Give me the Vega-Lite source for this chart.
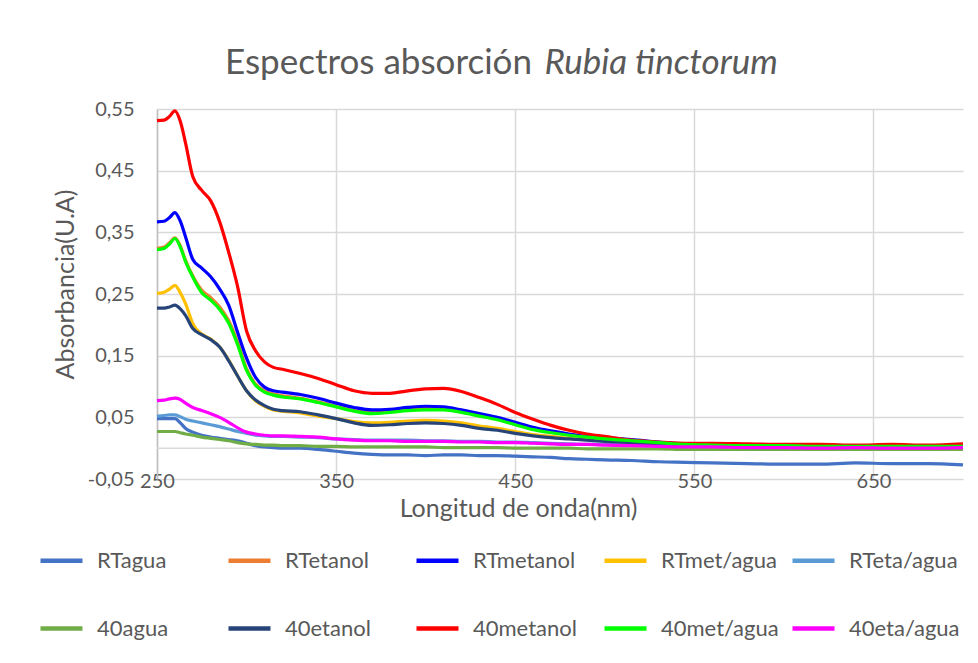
{
"$schema":"https://vega.github.io/schema/vega-lite/v6.json",
"width":806,"height":370,
"autosize":{"type":"none"},
"padding":{"left":157,"top":109,"right":15,"bottom":184},
"background":"white",
"title":{"text":"Espectros absorción","subtitle":"\u200b\u00a0\u00a0\u00a0\u00a0\u00a0\u00a0\u00a0\u00a0\u00a0\u00a0\u00a0\u00a0\u00a0\u00a0\u00a0\u00a0\u00a0\u00a0\u00a0\u00a0\u00a0\u00a0\u00a0\u00a0\u00a0\u00a0\u00a0\u00a0\u00a0\u00a0\u00a0\u00a0\u00a0\u00a0\u00a0\u00a0\u00a0\u00a0\u00a0Rubia tinctorum","anchor":"start","frame":"group","dx":68,"offset":18,"font":"Lato","fontSize":35,"fontWeight":"normal","color":"#595959","subtitleFont":"Lato","subtitleFontSize":35,"subtitleFontStyle":"italic","subtitleColor":"#595959","subtitlePadding":-35},
"config":{"view":{"stroke":null},"font":"Lato"},
"layer":[
{"data":{"values":[{}]},"mark":{"type":"rule","color":"#D9D9D9","strokeWidth":1.5},"encoding":{"y":{"datum":0,"type":"quantitative"}}},
{"data":{"values":[
{"s":"RTagua","x":250,"y":0.048},{"s":"RTagua","x":254,"y":0.048},{"s":"RTagua","x":257,"y":0.048},{"s":"RTagua","x":260,"y":0.048},{"s":"RTagua","x":263,"y":0.041},{"s":"RTagua","x":266,"y":0.032},{"s":"RTagua","x":270,"y":0.026},{"s":"RTagua","x":275,"y":0.021},{"s":"RTagua","x":280,"y":0.018},{"s":"RTagua","x":285,"y":0.016},{"s":"RTagua","x":290,"y":0.014},{"s":"RTagua","x":295,"y":0.012},{"s":"RTagua","x":300,"y":0.008},{"s":"RTagua","x":305,"y":0.004},{"s":"RTagua","x":310,"y":0.002},{"s":"RTagua","x":315,"y":0.001},{"s":"RTagua","x":320,"y":0.000},{"s":"RTagua","x":330,"y":0.000},{"s":"RTagua","x":340,"y":-0.002},{"s":"RTagua","x":350,"y":-0.005},{"s":"RTagua","x":360,"y":-0.008},{"s":"RTagua","x":370,"y":-0.010},{"s":"RTagua","x":380,"y":-0.011},{"s":"RTagua","x":390,"y":-0.011},{"s":"RTagua","x":400,"y":-0.012},{"s":"RTagua","x":410,"y":-0.011},{"s":"RTagua","x":420,"y":-0.011},{"s":"RTagua","x":430,"y":-0.012},{"s":"RTagua","x":440,"y":-0.012},{"s":"RTagua","x":450,"y":-0.013},{"s":"RTagua","x":460,"y":-0.014},{"s":"RTagua","x":470,"y":-0.015},{"s":"RTagua","x":480,"y":-0.017},{"s":"RTagua","x":490,"y":-0.018},{"s":"RTagua","x":500,"y":-0.019},{"s":"RTagua","x":515,"y":-0.020},{"s":"RTagua","x":530,"y":-0.022},{"s":"RTagua","x":545,"y":-0.023},{"s":"RTagua","x":560,"y":-0.024},{"s":"RTagua","x":580,"y":-0.025},{"s":"RTagua","x":600,"y":-0.026},{"s":"RTagua","x":620,"y":-0.026},{"s":"RTagua","x":640,"y":-0.024},{"s":"RTagua","x":660,"y":-0.025},{"s":"RTagua","x":680,"y":-0.025},{"s":"RTagua","x":700,"y":-0.027},
{"s":"RTetanol","x":250,"y":0.324},{"s":"RTetanol","x":254,"y":0.326},{"s":"RTetanol","x":257,"y":0.333},{"s":"RTetanol","x":260,"y":0.341},{"s":"RTetanol","x":263,"y":0.328},{"s":"RTetanol","x":266,"y":0.304},{"s":"RTetanol","x":270,"y":0.279},{"s":"RTetanol","x":275,"y":0.256},{"s":"RTetanol","x":280,"y":0.244},{"s":"RTetanol","x":285,"y":0.229},{"s":"RTetanol","x":290,"y":0.207},{"s":"RTetanol","x":295,"y":0.172},{"s":"RTetanol","x":300,"y":0.129},{"s":"RTetanol","x":305,"y":0.104},{"s":"RTetanol","x":310,"y":0.093},{"s":"RTetanol","x":315,"y":0.088},{"s":"RTetanol","x":320,"y":0.085},{"s":"RTetanol","x":330,"y":0.081},{"s":"RTetanol","x":340,"y":0.075},{"s":"RTetanol","x":350,"y":0.068},{"s":"RTetanol","x":360,"y":0.061},{"s":"RTetanol","x":370,"y":0.058},{"s":"RTetanol","x":380,"y":0.060},{"s":"RTetanol","x":390,"y":0.063},{"s":"RTetanol","x":400,"y":0.065},{"s":"RTetanol","x":410,"y":0.064},{"s":"RTetanol","x":420,"y":0.060},{"s":"RTetanol","x":430,"y":0.054},{"s":"RTetanol","x":440,"y":0.047},{"s":"RTetanol","x":450,"y":0.039},{"s":"RTetanol","x":460,"y":0.031},{"s":"RTetanol","x":470,"y":0.026},{"s":"RTetanol","x":480,"y":0.022},{"s":"RTetanol","x":490,"y":0.018},{"s":"RTetanol","x":500,"y":0.016},{"s":"RTetanol","x":515,"y":0.012},{"s":"RTetanol","x":530,"y":0.009},{"s":"RTetanol","x":545,"y":0.007},{"s":"RTetanol","x":560,"y":0.006},{"s":"RTetanol","x":580,"y":0.005},{"s":"RTetanol","x":600,"y":0.005},{"s":"RTetanol","x":620,"y":0.004},{"s":"RTetanol","x":640,"y":0.004},{"s":"RTetanol","x":660,"y":0.004},{"s":"RTetanol","x":680,"y":0.004},{"s":"RTetanol","x":700,"y":0.004},
{"s":"RTmetanol","x":250,"y":0.367},{"s":"RTmetanol","x":254,"y":0.368},{"s":"RTmetanol","x":257,"y":0.374},{"s":"RTmetanol","x":260,"y":0.382},{"s":"RTmetanol","x":263,"y":0.368},{"s":"RTmetanol","x":266,"y":0.342},{"s":"RTmetanol","x":270,"y":0.306},{"s":"RTmetanol","x":275,"y":0.292},{"s":"RTmetanol","x":280,"y":0.278},{"s":"RTmetanol","x":285,"y":0.258},{"s":"RTmetanol","x":290,"y":0.232},{"s":"RTmetanol","x":295,"y":0.188},{"s":"RTmetanol","x":300,"y":0.146},{"s":"RTmetanol","x":305,"y":0.115},{"s":"RTmetanol","x":310,"y":0.099},{"s":"RTmetanol","x":315,"y":0.093},{"s":"RTmetanol","x":320,"y":0.091},{"s":"RTmetanol","x":330,"y":0.087},{"s":"RTmetanol","x":340,"y":0.081},{"s":"RTmetanol","x":350,"y":0.073},{"s":"RTmetanol","x":360,"y":0.066},{"s":"RTmetanol","x":370,"y":0.062},{"s":"RTmetanol","x":380,"y":0.063},{"s":"RTmetanol","x":390,"y":0.066},{"s":"RTmetanol","x":400,"y":0.068},{"s":"RTmetanol","x":410,"y":0.067},{"s":"RTmetanol","x":420,"y":0.062},{"s":"RTmetanol","x":430,"y":0.056},{"s":"RTmetanol","x":440,"y":0.050},{"s":"RTmetanol","x":450,"y":0.042},{"s":"RTmetanol","x":460,"y":0.034},{"s":"RTmetanol","x":470,"y":0.028},{"s":"RTmetanol","x":480,"y":0.023},{"s":"RTmetanol","x":490,"y":0.019},{"s":"RTmetanol","x":500,"y":0.017},{"s":"RTmetanol","x":515,"y":0.014},{"s":"RTmetanol","x":530,"y":0.010},{"s":"RTmetanol","x":545,"y":0.007},{"s":"RTmetanol","x":560,"y":0.006},{"s":"RTmetanol","x":580,"y":0.005},{"s":"RTmetanol","x":600,"y":0.005},{"s":"RTmetanol","x":620,"y":0.005},{"s":"RTmetanol","x":640,"y":0.004},{"s":"RTmetanol","x":660,"y":0.004},{"s":"RTmetanol","x":680,"y":0.004},{"s":"RTmetanol","x":700,"y":0.004},
{"s":"RTmet/agua","x":250,"y":0.251},{"s":"RTmet/agua","x":254,"y":0.253},{"s":"RTmet/agua","x":257,"y":0.258},{"s":"RTmet/agua","x":260,"y":0.264},{"s":"RTmet/agua","x":263,"y":0.252},{"s":"RTmet/agua","x":266,"y":0.234},{"s":"RTmet/agua","x":270,"y":0.202},{"s":"RTmet/agua","x":275,"y":0.185},{"s":"RTmet/agua","x":280,"y":0.177},{"s":"RTmet/agua","x":285,"y":0.164},{"s":"RTmet/agua","x":290,"y":0.143},{"s":"RTmet/agua","x":295,"y":0.117},{"s":"RTmet/agua","x":300,"y":0.093},{"s":"RTmet/agua","x":305,"y":0.077},{"s":"RTmet/agua","x":310,"y":0.068},{"s":"RTmet/agua","x":315,"y":0.062},{"s":"RTmet/agua","x":320,"y":0.060},{"s":"RTmet/agua","x":330,"y":0.057},{"s":"RTmet/agua","x":340,"y":0.052},{"s":"RTmet/agua","x":350,"y":0.048},{"s":"RTmet/agua","x":360,"y":0.043},{"s":"RTmet/agua","x":370,"y":0.041},{"s":"RTmet/agua","x":380,"y":0.042},{"s":"RTmet/agua","x":390,"y":0.044},{"s":"RTmet/agua","x":400,"y":0.045},{"s":"RTmet/agua","x":410,"y":0.044},{"s":"RTmet/agua","x":420,"y":0.041},{"s":"RTmet/agua","x":430,"y":0.036},{"s":"RTmet/agua","x":440,"y":0.032},{"s":"RTmet/agua","x":450,"y":0.027},{"s":"RTmet/agua","x":460,"y":0.022},{"s":"RTmet/agua","x":470,"y":0.019},{"s":"RTmet/agua","x":480,"y":0.016},{"s":"RTmet/agua","x":490,"y":0.014},{"s":"RTmet/agua","x":500,"y":0.012},{"s":"RTmet/agua","x":515,"y":0.009},{"s":"RTmet/agua","x":530,"y":0.007},{"s":"RTmet/agua","x":545,"y":0.005},{"s":"RTmet/agua","x":560,"y":0.004},{"s":"RTmet/agua","x":580,"y":0.004},{"s":"RTmet/agua","x":600,"y":0.003},{"s":"RTmet/agua","x":620,"y":0.003},{"s":"RTmet/agua","x":640,"y":0.003},{"s":"RTmet/agua","x":660,"y":0.003},{"s":"RTmet/agua","x":680,"y":0.003},{"s":"RTmet/agua","x":700,"y":0.003},
{"s":"RTeta/agua","x":250,"y":0.052},{"s":"RTeta/agua","x":254,"y":0.053},{"s":"RTeta/agua","x":257,"y":0.054},{"s":"RTeta/agua","x":260,"y":0.054},{"s":"RTeta/agua","x":263,"y":0.051},{"s":"RTeta/agua","x":266,"y":0.047},{"s":"RTeta/agua","x":270,"y":0.044},{"s":"RTeta/agua","x":275,"y":0.041},{"s":"RTeta/agua","x":280,"y":0.038},{"s":"RTeta/agua","x":285,"y":0.035},{"s":"RTeta/agua","x":290,"y":0.031},{"s":"RTeta/agua","x":295,"y":0.027},{"s":"RTeta/agua","x":300,"y":0.024},{"s":"RTeta/agua","x":305,"y":0.021},{"s":"RTeta/agua","x":310,"y":0.020},{"s":"RTeta/agua","x":315,"y":0.019},{"s":"RTeta/agua","x":320,"y":0.019},{"s":"RTeta/agua","x":330,"y":0.018},{"s":"RTeta/agua","x":340,"y":0.017},{"s":"RTeta/agua","x":350,"y":0.015},{"s":"RTeta/agua","x":360,"y":0.014},{"s":"RTeta/agua","x":370,"y":0.013},{"s":"RTeta/agua","x":380,"y":0.013},{"s":"RTeta/agua","x":390,"y":0.013},{"s":"RTeta/agua","x":400,"y":0.012},{"s":"RTeta/agua","x":410,"y":0.012},{"s":"RTeta/agua","x":420,"y":0.011},{"s":"RTeta/agua","x":430,"y":0.011},{"s":"RTeta/agua","x":440,"y":0.010},{"s":"RTeta/agua","x":450,"y":0.010},{"s":"RTeta/agua","x":460,"y":0.009},{"s":"RTeta/agua","x":470,"y":0.008},{"s":"RTeta/agua","x":480,"y":0.007},{"s":"RTeta/agua","x":490,"y":0.006},{"s":"RTeta/agua","x":500,"y":0.006},{"s":"RTeta/agua","x":515,"y":0.005},{"s":"RTeta/agua","x":530,"y":0.004},{"s":"RTeta/agua","x":545,"y":0.003},{"s":"RTeta/agua","x":560,"y":0.002},{"s":"RTeta/agua","x":580,"y":0.002},{"s":"RTeta/agua","x":600,"y":0.002},{"s":"RTeta/agua","x":620,"y":0.001},{"s":"RTeta/agua","x":640,"y":0.001},{"s":"RTeta/agua","x":660,"y":0.001},{"s":"RTeta/agua","x":680,"y":0.001},{"s":"RTeta/agua","x":700,"y":0.001},
{"s":"40agua","x":250,"y":0.027},{"s":"40agua","x":254,"y":0.027},{"s":"40agua","x":257,"y":0.027},{"s":"40agua","x":260,"y":0.027},{"s":"40agua","x":263,"y":0.025},{"s":"40agua","x":266,"y":0.023},{"s":"40agua","x":270,"y":0.021},{"s":"40agua","x":275,"y":0.018},{"s":"40agua","x":280,"y":0.016},{"s":"40agua","x":285,"y":0.014},{"s":"40agua","x":290,"y":0.012},{"s":"40agua","x":295,"y":0.009},{"s":"40agua","x":300,"y":0.007},{"s":"40agua","x":305,"y":0.006},{"s":"40agua","x":310,"y":0.005},{"s":"40agua","x":315,"y":0.005},{"s":"40agua","x":320,"y":0.004},{"s":"40agua","x":330,"y":0.004},{"s":"40agua","x":340,"y":0.003},{"s":"40agua","x":350,"y":0.003},{"s":"40agua","x":360,"y":0.002},{"s":"40agua","x":370,"y":0.002},{"s":"40agua","x":380,"y":0.002},{"s":"40agua","x":390,"y":0.002},{"s":"40agua","x":400,"y":0.002},{"s":"40agua","x":410,"y":0.001},{"s":"40agua","x":420,"y":0.001},{"s":"40agua","x":430,"y":0.001},{"s":"40agua","x":440,"y":0.001},{"s":"40agua","x":450,"y":0.000},{"s":"40agua","x":460,"y":0.000},{"s":"40agua","x":470,"y":0.000},{"s":"40agua","x":480,"y":0.000},{"s":"40agua","x":490,"y":-0.001},{"s":"40agua","x":500,"y":-0.001},{"s":"40agua","x":515,"y":-0.001},{"s":"40agua","x":530,"y":-0.001},{"s":"40agua","x":545,"y":-0.002},{"s":"40agua","x":560,"y":-0.002},{"s":"40agua","x":580,"y":-0.002},{"s":"40agua","x":600,"y":-0.002},{"s":"40agua","x":620,"y":-0.002},{"s":"40agua","x":640,"y":-0.002},{"s":"40agua","x":660,"y":-0.002},{"s":"40agua","x":680,"y":-0.002},{"s":"40agua","x":700,"y":-0.002},
{"s":"40etanol","x":250,"y":0.227},{"s":"40etanol","x":254,"y":0.227},{"s":"40etanol","x":257,"y":0.229},{"s":"40etanol","x":260,"y":0.232},{"s":"40etanol","x":263,"y":0.226},{"s":"40etanol","x":266,"y":0.215},{"s":"40etanol","x":270,"y":0.194},{"s":"40etanol","x":275,"y":0.184},{"s":"40etanol","x":280,"y":0.176},{"s":"40etanol","x":285,"y":0.164},{"s":"40etanol","x":290,"y":0.142},{"s":"40etanol","x":295,"y":0.117},{"s":"40etanol","x":300,"y":0.093},{"s":"40etanol","x":305,"y":0.078},{"s":"40etanol","x":310,"y":0.069},{"s":"40etanol","x":315,"y":0.063},{"s":"40etanol","x":320,"y":0.061},{"s":"40etanol","x":330,"y":0.059},{"s":"40etanol","x":340,"y":0.054},{"s":"40etanol","x":350,"y":0.048},{"s":"40etanol","x":360,"y":0.041},{"s":"40etanol","x":370,"y":0.037},{"s":"40etanol","x":380,"y":0.038},{"s":"40etanol","x":390,"y":0.040},{"s":"40etanol","x":400,"y":0.041},{"s":"40etanol","x":410,"y":0.040},{"s":"40etanol","x":420,"y":0.037},{"s":"40etanol","x":430,"y":0.032},{"s":"40etanol","x":440,"y":0.029},{"s":"40etanol","x":450,"y":0.024},{"s":"40etanol","x":460,"y":0.020},{"s":"40etanol","x":470,"y":0.017},{"s":"40etanol","x":480,"y":0.015},{"s":"40etanol","x":490,"y":0.013},{"s":"40etanol","x":500,"y":0.011},{"s":"40etanol","x":515,"y":0.009},{"s":"40etanol","x":530,"y":0.007},{"s":"40etanol","x":545,"y":0.005},{"s":"40etanol","x":560,"y":0.004},{"s":"40etanol","x":580,"y":0.003},{"s":"40etanol","x":600,"y":0.003},{"s":"40etanol","x":620,"y":0.003},{"s":"40etanol","x":640,"y":0.002},{"s":"40etanol","x":660,"y":0.002},{"s":"40etanol","x":680,"y":0.002},{"s":"40etanol","x":700,"y":0.002},
{"s":"40metanol","x":250,"y":0.531},{"s":"40metanol","x":254,"y":0.532},{"s":"40metanol","x":257,"y":0.538},{"s":"40metanol","x":260,"y":0.547},{"s":"40metanol","x":263,"y":0.530},{"s":"40metanol","x":266,"y":0.494},{"s":"40metanol","x":270,"y":0.440},{"s":"40metanol","x":275,"y":0.418},{"s":"40metanol","x":280,"y":0.401},{"s":"40metanol","x":285,"y":0.367},{"s":"40metanol","x":290,"y":0.318},{"s":"40metanol","x":295,"y":0.262},{"s":"40metanol","x":300,"y":0.190},{"s":"40metanol","x":305,"y":0.158},{"s":"40metanol","x":310,"y":0.140},{"s":"40metanol","x":315,"y":0.131},{"s":"40metanol","x":320,"y":0.128},{"s":"40metanol","x":330,"y":0.121},{"s":"40metanol","x":340,"y":0.113},{"s":"40metanol","x":350,"y":0.103},{"s":"40metanol","x":360,"y":0.093},{"s":"40metanol","x":370,"y":0.089},{"s":"40metanol","x":380,"y":0.089},{"s":"40metanol","x":390,"y":0.093},{"s":"40metanol","x":400,"y":0.096},{"s":"40metanol","x":410,"y":0.097},{"s":"40metanol","x":420,"y":0.092},{"s":"40metanol","x":430,"y":0.082},{"s":"40metanol","x":440,"y":0.071},{"s":"40metanol","x":450,"y":0.058},{"s":"40metanol","x":460,"y":0.047},{"s":"40metanol","x":470,"y":0.037},{"s":"40metanol","x":480,"y":0.029},{"s":"40metanol","x":490,"y":0.023},{"s":"40metanol","x":500,"y":0.019},{"s":"40metanol","x":515,"y":0.013},{"s":"40metanol","x":530,"y":0.010},{"s":"40metanol","x":545,"y":0.008},{"s":"40metanol","x":560,"y":0.008},{"s":"40metanol","x":580,"y":0.007},{"s":"40metanol","x":600,"y":0.006},{"s":"40metanol","x":620,"y":0.006},{"s":"40metanol","x":640,"y":0.005},{"s":"40metanol","x":660,"y":0.006},{"s":"40metanol","x":680,"y":0.005},{"s":"40metanol","x":700,"y":0.007},
{"s":"40met/agua","x":250,"y":0.322},{"s":"40met/agua","x":254,"y":0.324},{"s":"40met/agua","x":257,"y":0.331},{"s":"40met/agua","x":260,"y":0.340},{"s":"40met/agua","x":263,"y":0.326},{"s":"40met/agua","x":266,"y":0.302},{"s":"40met/agua","x":270,"y":0.277},{"s":"40met/agua","x":275,"y":0.252},{"s":"40met/agua","x":280,"y":0.240},{"s":"40met/agua","x":285,"y":0.225},{"s":"40met/agua","x":290,"y":0.203},{"s":"40met/agua","x":295,"y":0.168},{"s":"40met/agua","x":300,"y":0.126},{"s":"40met/agua","x":305,"y":0.102},{"s":"40met/agua","x":310,"y":0.091},{"s":"40met/agua","x":315,"y":0.086},{"s":"40met/agua","x":320,"y":0.083},{"s":"40met/agua","x":330,"y":0.080},{"s":"40met/agua","x":340,"y":0.074},{"s":"40met/agua","x":350,"y":0.067},{"s":"40met/agua","x":360,"y":0.060},{"s":"40met/agua","x":370,"y":0.056},{"s":"40met/agua","x":380,"y":0.058},{"s":"40met/agua","x":390,"y":0.061},{"s":"40met/agua","x":400,"y":0.062},{"s":"40met/agua","x":410,"y":0.062},{"s":"40met/agua","x":420,"y":0.058},{"s":"40met/agua","x":430,"y":0.052},{"s":"40met/agua","x":440,"y":0.046},{"s":"40met/agua","x":450,"y":0.038},{"s":"40met/agua","x":460,"y":0.030},{"s":"40met/agua","x":470,"y":0.025},{"s":"40met/agua","x":480,"y":0.021},{"s":"40met/agua","x":490,"y":0.018},{"s":"40met/agua","x":500,"y":0.015},{"s":"40met/agua","x":515,"y":0.012},{"s":"40met/agua","x":530,"y":0.009},{"s":"40met/agua","x":545,"y":0.006},{"s":"40met/agua","x":560,"y":0.005},{"s":"40met/agua","x":580,"y":0.004},{"s":"40met/agua","x":600,"y":0.004},{"s":"40met/agua","x":620,"y":0.003},{"s":"40met/agua","x":640,"y":0.003},{"s":"40met/agua","x":660,"y":0.003},{"s":"40met/agua","x":680,"y":0.003},{"s":"40met/agua","x":700,"y":0.003},
{"s":"40eta/agua","x":250,"y":0.077},{"s":"40eta/agua","x":254,"y":0.078},{"s":"40eta/agua","x":257,"y":0.080},{"s":"40eta/agua","x":260,"y":0.081},{"s":"40eta/agua","x":263,"y":0.079},{"s":"40eta/agua","x":266,"y":0.073},{"s":"40eta/agua","x":270,"y":0.066},{"s":"40eta/agua","x":275,"y":0.061},{"s":"40eta/agua","x":280,"y":0.056},{"s":"40eta/agua","x":285,"y":0.050},{"s":"40eta/agua","x":290,"y":0.042},{"s":"40eta/agua","x":295,"y":0.033},{"s":"40eta/agua","x":300,"y":0.026},{"s":"40eta/agua","x":305,"y":0.023},{"s":"40eta/agua","x":310,"y":0.021},{"s":"40eta/agua","x":315,"y":0.020},{"s":"40eta/agua","x":320,"y":0.020},{"s":"40eta/agua","x":330,"y":0.019},{"s":"40eta/agua","x":340,"y":0.018},{"s":"40eta/agua","x":350,"y":0.015},{"s":"40eta/agua","x":360,"y":0.013},{"s":"40eta/agua","x":370,"y":0.012},{"s":"40eta/agua","x":380,"y":0.012},{"s":"40eta/agua","x":390,"y":0.011},{"s":"40eta/agua","x":400,"y":0.011},{"s":"40eta/agua","x":410,"y":0.011},{"s":"40eta/agua","x":420,"y":0.010},{"s":"40eta/agua","x":430,"y":0.010},{"s":"40eta/agua","x":440,"y":0.009},{"s":"40eta/agua","x":450,"y":0.009},{"s":"40eta/agua","x":460,"y":0.008},{"s":"40eta/agua","x":470,"y":0.007},{"s":"40eta/agua","x":480,"y":0.006},{"s":"40eta/agua","x":490,"y":0.006},{"s":"40eta/agua","x":500,"y":0.005},{"s":"40eta/agua","x":515,"y":0.004},{"s":"40eta/agua","x":530,"y":0.003},{"s":"40eta/agua","x":545,"y":0.002},{"s":"40eta/agua","x":560,"y":0.002},{"s":"40eta/agua","x":580,"y":0.001},{"s":"40eta/agua","x":600,"y":0.001},{"s":"40eta/agua","x":620,"y":0.000},{"s":"40eta/agua","x":640,"y":0.001},{"s":"40eta/agua","x":660,"y":0.000},{"s":"40eta/agua","x":680,"y":0.000},{"s":"40eta/agua","x":700,"y":0.001}
]},
"mark":{"type":"line","strokeWidth":3.2,"interpolate":"monotone"},
"encoding":{
"x":{"field":"x","type":"quantitative","scale":{"domain":[250,700],"nice":false,"zero":false},
"axis":{"values":[250,350,450,550,650],"title":"Longitud de onda(nm)","grid":true,"gridColor":"#D9D9D9","gridWidth":1.5,"domain":false,"ticks":false,"tickSize":0,"labelFlush":false,"labelPadding":2,"labelBaseline":"middle","labelFontSize":20,"labelFont":"Lato","labelColor":"#595959","titleFont":"Lato","titleFontSize":25,"titleColor":"#595959","titleFontWeight":"normal","titleX":361,"titleY":29,"titleBaseline":"middle","titleAnchor":null,"titleAlign":"center"}},
"y":{"field":"y","type":"quantitative","scale":{"domain":[-0.05,0.55],"nice":false,"zero":false},
"axis":{"values":[-0.05,0.05,0.15,0.25,0.35,0.45,0.55],"labelExpr":"replace(replace(format(datum.value,'.2f'),'.',','),'\u2212','-')","grid":true,"gridColor":"#D9D9D9","gridWidth":1.5,"domain":true,"domainColor":"#BFBFBF","domainWidth":1.5,"ticks":false,"tickSize":0,"labelFlush":false,"labelPadding":23,"labelFontSize":20,"labelFont":"Lato","labelColor":"#595959","title":"Absorbancia(U.A)","titleFont":"Lato","titleFontSize":25,"titleColor":"#595959","titleFontWeight":"normal","titlePadding":9,"titleY":175,"titleAnchor":null,"titleAlign":"center"}},
"color":{"field":"s","type":"nominal","sort":null,
"scale":{"domain":["RTagua","RTetanol","RTmetanol","RTmet/agua","RTeta/agua","40agua","40etanol","40metanol","40met/agua","40eta/agua"],"range":["#4472C4","#ED7D31","#0000FF","#FFC000","#5B9BD5","#70AD47","#264478","#FF0000","#00FF00","#FF00FF"]},
"legend":{"orient":"none","legendX":-119,"legendY":428,"direction":"horizontal","columns":5,"gridAlign":"all","columnPadding":4,"rowPadding":33,"symbolType":"stroke","symbolSize":1764,"symbolStrokeWidth":4.5,"labelFontSize":22,"labelFont":"Lato","labelColor":"#595959","labelOffset":12,"labelLimit":0,"title":null}}
}}
]
}
